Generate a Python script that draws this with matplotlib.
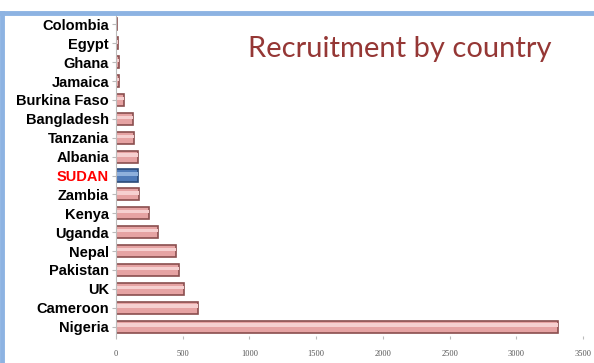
import matplotlib
matplotlib.use('Agg')
import matplotlib.pyplot as plt

# Data
countries = ['Colombia', 'Egypt', 'Ghana', 'Jamaica', 'Burkina Faso', 'Bangladesh',
             'Tanzania', 'Albania', 'SUDAN', 'Zambia', 'Kenya', 'Uganda', 'Nepal',
             'Pakistan', 'UK', 'Cameroon', 'Nigeria']
recruits = [5, 15, 20, 22, 60, 126, 134, 162, 164, 171, 245, 312, 446, 470, 513, 617, 3310]
highlight = 'SUDAN'
xticks = [0, 500, 1000, 1500, 2000, 2500, 3000, 3500]

fig = plt.figure(figsize=(5.94, 3.63), dpi=100)

# Blue frame lines at top and left
fig.add_artist(plt.Line2D([0, 1], [1 - 13 / 363, 1 - 13 / 363], color='#8db3e2', lw=3.5))
fig.add_artist(plt.Line2D([2 / 594, 2 / 594], [0, 1 - 13 / 363], color='#8db3e2', lw=3.5))

ax = fig.add_axes([116 / 594, 1 - 336 / 363, (583 - 116) / 594, (336 - 15) / 363])

# Reverse order so Colombia is at top
y = list(range(len(countries)))[::-1]
face = ['#4f7ab8' if c == highlight else '#e6a3a3' for c in countries]
edge = ['#2b4a78' if c == highlight else '#8a4e4e' for c in countries]
shine = ['#8fb0dc' if c == highlight else '#f6d0d0' for c in countries]

ax.barh(y, recruits, height=0.64, color=face, edgecolor=edge, linewidth=1.2)
# Lighter strip for the glossy look
ax.barh([v + 0.08 for v in y], recruits, height=0.18, color=shine, linewidth=0)

ax.set_ylim(-0.5, len(countries) - 0.5)
ax.set_xlim(0, 3500)
ax.set_yticks(y)
ax.set_yticklabels(countries, family='Liberation Sans', fontsize=10.5, fontweight='bold')
for lab in ax.get_yticklabels():
    if lab.get_text() == highlight:
        lab.set_color('red')

ax.set_xticks(xticks)
ax.set_xticklabels([str(t) for t in xticks], family='Liberation Serif', fontsize=6, color='#555555')
ax.tick_params(axis='x', length=2, color='#bbbbbb', pad=8)
ax.tick_params(axis='y', length=3, color='#bbbbbb', pad=2)

for side in ['top', 'right', 'bottom']:
    ax.spines[side].set_visible(False)
ax.spines['left'].set_color('#bbbbbb')

fig.text(400 / 594, 1 - 49 / 363, 'Recruitment by country', family='Lato', fontsize=21,
         color='#953735', ha='center', va='center')

fig.savefig('out.png', dpi=100)
